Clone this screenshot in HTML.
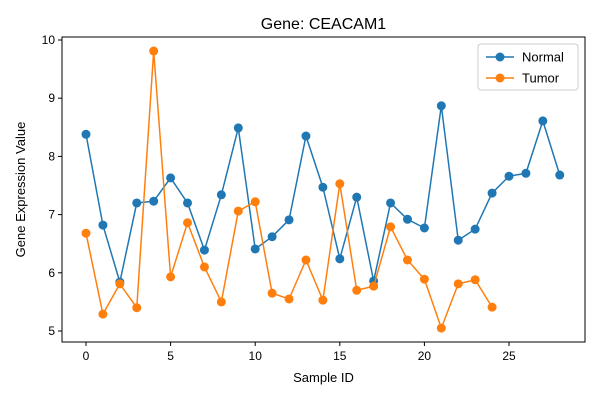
<!DOCTYPE html>
<html><head><meta charset="utf-8"><style>
body{margin:0;background:#fff;font-family:"Liberation Sans","DejaVu Sans",sans-serif;}
svg{display:block}
</style></head><body>
<svg id="chart" width="600" height="400" xmlns="http://www.w3.org/2000/svg">
<rect width="600" height="400" fill="#fff"/>
<g id="plot"></g>
</svg>
<script>
const normalValues=[8.38,6.82,5.84,7.2,7.23,7.63,7.2,6.39,7.34,8.49,6.41,6.62,6.91,8.35,7.47,6.24,7.3,5.86,7.2,6.92,6.77,8.87,6.56,6.75,7.37,7.66,7.71,8.61,7.68];
const tumorValues=[6.68,5.29,5.81,5.40,9.81,5.93,6.86,6.10,5.50,7.06,7.22,5.65,5.55,6.22,5.53,7.53,5.70,5.77,6.79,6.22,5.89,5.05,5.81,5.88,5.41];
const xTicks=[0,5,10,15,20,25];
const yTicks=[5,6,7,8,9,10];
const seriesNames=["Normal","Tumor"];
const L=62,R=585,T=37,B=342;
const xs=v=>86+v*(509-86)/25;
const ys=v=>331-(v-5)*(331-40)/5;
const NS="http://www.w3.org/2000/svg";
const g=document.getElementById('plot');
function mk(t,a,p){const e=document.createElementNS(NS,t);for(const k in a)e.setAttribute(k,a[k]);(p||g).appendChild(e);return e;}
const frame=mk('rect',{x:L,y:T,width:R-L,height:B-T,fill:'none',stroke:'#000','stroke-width':1});


xTicks.forEach(t=>{const x=xs(t);
 mk('line',{x1:x,x2:x,y1:B,y2:B+4,stroke:'#000'});
 const tx=mk('text',{x:x,y:B+18,'text-anchor':'middle','font-size':12,fill:'#000'});tx.textContent=t;
 
 });
yTicks.forEach(t=>{const y=ys(t);
 mk('line',{x1:L-4,x2:L,y1:y,y2:y,stroke:'#000'});
 const tx=mk('text',{x:L-7,y:y+4,'text-anchor':'end','font-size':12,fill:'#000'});tx.textContent=t;
 
 });
const cols=['#1f77b4','#ff7f0e'];
[normalValues,tumorValues].forEach((arr,si)=>{
 const pts=arr.map((v,i)=>xs(i)+','+ys(v)).join(' ');
 const pl=mk('polyline',{points:pts,fill:'none',stroke:cols[si],'stroke-width':1.5});
 
 
 arr.forEach((v,i)=>{const c=mk('circle',{cx:xs(i),cy:ys(v),r:4.5,fill:cols[si]});
  
  });
});
const title=mk('text',{x:(L+R)/2,y:29,'text-anchor':'middle','font-size':16,fill:'#000'});title.textContent='Gene: CEACAM1';


const xt=mk('text',{x:(L+R)/2,y:382,'text-anchor':'middle','font-size':13,fill:'#000'});xt.textContent='Sample ID';


const yt=mk('text',{x:0,y:0,'text-anchor':'middle','font-size':13,fill:'#000',transform:'translate(25,'+((T+B)/2)+') rotate(-90)'});yt.textContent='Gene Expression Value';


const lg=mk('g',{});


mk('rect',{x:478,y:44,width:100,height:46,rx:3,fill:'#fff',stroke:'#ccc'},lg);
seriesNames.forEach((n,i)=>{const y=57+i*21;
 const e=mk('g',{},lg);
 
 
 mk('line',{x1:486,x2:514,y1:y,y2:y,stroke:cols[i],'stroke-width':1.5},e);
 mk('circle',{cx:500,cy:y,r:4.5,fill:cols[i]},e);
 const t=mk('text',{x:522,y:y+4.5,'font-size':13,fill:'#000'},e);t.textContent=n;});
</script>
</body></html>
